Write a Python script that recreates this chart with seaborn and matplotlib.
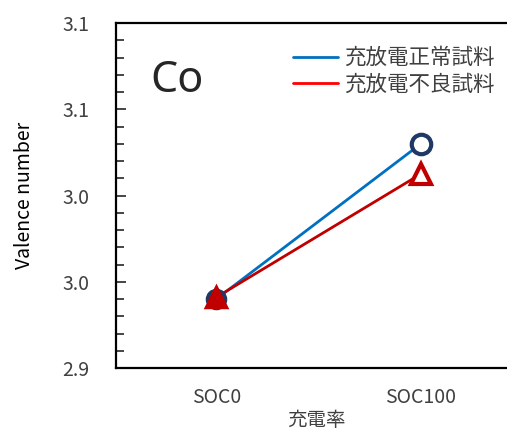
import numpy as np
import pandas as pd
import matplotlib
matplotlib.use("Agg")
import matplotlib.pyplot as plt
from matplotlib.ticker import MultipleLocator, FixedLocator, FixedFormatter
from matplotlib.lines import Line2D
import seaborn as sns

# dados
categorias = ["SOC0", "SOC100"]
normal = [2.940, 3.030]     # 充放電正常試料
defeito = [2.941, 3.0125]   # 充放電不良試料
yticks = [2.90, 2.95, 3.00, 3.05, 3.10]
ytick_labels = ["2.9", "3.0", "3.0", "3.1", "3.1"]

sns.set_style("white")
plt.rcParams['font.family'] = ['Noto Sans CJK JP', 'DejaVu Sans']

df = pd.DataFrame({
    "x": list(range(len(categorias))) * 2,
    "y": normal + defeito,
    "amostra": ["充放電正常試料"] * 2 + ["充放電不良試料"] * 2,
})

fig = plt.figure(figsize=(5.07, 4.32), dpi=100)
ax = fig.add_axes([116/507, 64/432, 1.02 - 116/507, 345/432])

azul, vermelho = "#0070C0", "#C00000"
sns.lineplot(data=df, x="x", y="y", hue="amostra", palette=[azul, vermelho],
             linewidth=2, legend=False, ax=ax)

# marcadores: SOC0 cheio, SOC100 vazado
navy = "#1F3864"
ax.plot(0, normal[0], 'o', ms=13, mfc=navy, mec=navy, mew=2.5, zorder=3)
ax.plot(1, normal[1], 'o', ms=14, mfc="white", mec=navy, mew=3, zorder=3)
ax.plot(0, defeito[0], '^', ms=15, mfc=vermelho, mec=vermelho, mew=2.5, zorder=4)
ax.plot(1, defeito[1], '^', ms=15, mfc="white", mec=vermelho, mew=3, zorder=4)

cinza = "#404040"
ax.set_xlim(-0.49, 1.47)
ax.set_ylim(2.90, 3.10)
ax.set_xticks(range(len(categorias)))
ax.set_xticklabels(categorias, fontsize=14, color=cinza)
ax.yaxis.set_major_locator(FixedLocator(yticks))
ax.yaxis.set_major_formatter(FixedFormatter(ytick_labels))
ax.yaxis.set_minor_locator(MultipleLocator(0.01))
ax.tick_params(axis='y', which='both', direction='in', left=True, labelsize=14,
               labelcolor=cinza, width=1.2, pad=19)
ax.tick_params(axis='y', which='major', length=7)
ax.tick_params(axis='y', which='minor', length=6)
ax.tick_params(axis='x', length=0, pad=14)

for s in ["left", "top", "bottom"]:
    ax.spines[s].set_color("black")
    ax.spines[s].set_linewidth(1.6)
ax.spines["right"].set_visible(False)

ax.set_xlabel("充電率", fontsize=14, color=cinza, labelpad=1)
ax.set_ylabel("Valence number", fontsize=14, color="black", labelpad=20)

ax.text(0.085, 0.8, "Co", transform=ax.transAxes, fontsize=31,
        family=['Noto Sans', 'DejaVu Sans'], fontweight='light')

handles = [Line2D([], [], color=azul, lw=2), Line2D([], [], color="#FF0000", lw=2)]
ax.legend(handles, ["充放電正常試料", "充放電不良試料"], loc="upper left",
          bbox_to_anchor=(0.42, 0.955), frameon=False, fontsize=15.5,
          handlelength=2.1, handletextpad=0.25, labelspacing=0.2,
          labelcolor=cinza, borderaxespad=0)

fig.savefig("out.png", dpi=100)
